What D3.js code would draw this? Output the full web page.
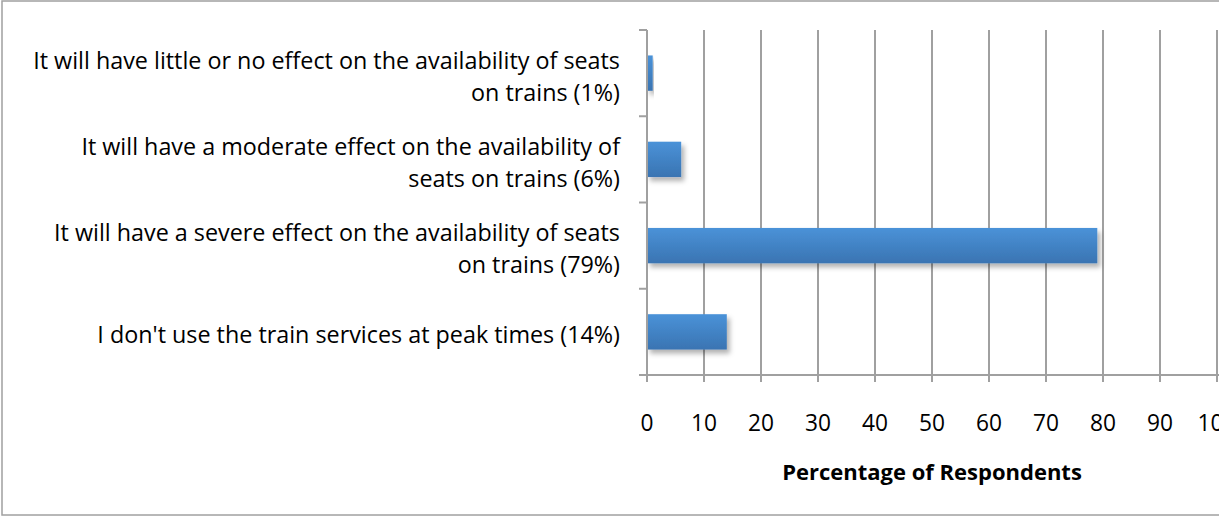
<!DOCTYPE html>
<html><head><meta charset="utf-8">
<script src="https://cdn.jsdelivr.net/npm/d3@7"></script>
<style>body{margin:0;background:#fff;}svg{display:block;}</style>
</head><body>
<svg id="c" width="1219" height="517"></svg>
<script>
const categories = [
  ["It will have little or no effect on the availability of seats", "on trains (1%)"],
  ["It will have a moderate effect on the availability of", "seats on trains (6%)"],
  ["It will have a severe effect on the availability of seats", "on trains (79%)"],
  ["I don't use the train services at peak times (14%)"]
];
const values = [1, 6, 79, 14];
const xTicks = [0,10,20,30,40,50,60,70,80,90,100];
const xTitle = "Percentage of Respondents";

const svg = d3.select("#c");
const font = "'Open Sans', Lato, sans-serif";

function fitSize(txt, weight, target){
  const t = svg.append("text").attr("font-family",font).attr("font-size",20).attr("font-weight",weight).text(txt);
  const w = t.node().getComputedTextLength();
  t.remove();
  return 20*target/w;
}
const labelSize = fitSize(categories[0][0], "normal", 587);
const tickSize = fitSize("90", "normal", 26);
const titleSize = fitSize(xTitle, "bold", 300);

const defs = svg.append("defs");
const g1 = defs.append("linearGradient").attr("id","bg").attr("x1",0).attr("y1",0).attr("x2",0).attr("y2",1);
g1.append("stop").attr("offset","0%").attr("stop-color","#4a92d8");
g1.append("stop").attr("offset","100%").attr("stop-color","#3a74b2");
const f = defs.append("filter").attr("id","sh").attr("x","-10%").attr("y","-20%").attr("width","130%").attr("height","160%");
f.append("feDropShadow").attr("dx",3).attr("dy",4).attr("stdDeviation",2.5).attr("flood-color","#000").attr("flood-opacity",0.3);

svg.append("rect").attr("x",2).attr("y",1).attr("width",1240).attr("height",514)
  .attr("fill","#fff").attr("stroke","#a0a0a0").attr("stroke-width",1.5);

const x = d3.scaleLinear().domain([0,100]).range([647,1217]);
const y = d3.scaleBand().domain(d3.range(categories.length)).range([30,375]).paddingInner(0.59).paddingOuter(0.295);

svg.append("g").selectAll("line").data(xTicks.slice(1)).join("line")
  .attr("x1",d=>x(d)).attr("x2",d=>x(d)).attr("y1",30).attr("y2",375)
  .attr("stroke","#a0a0a0").attr("stroke-width",2);

svg.append("g").selectAll("rect").data(values).join("rect")
  .attr("x",x(0)).attr("y",(d,i)=>y(i)).attr("width",d=>x(d)-x(0)).attr("height",y.bandwidth())
  .attr("fill","url(#bg)").attr("filter","url(#sh)");

const bandEdges = d3.range(categories.length+1).map(i=>30 + i*(345/categories.length));
svg.append("line").attr("x1",x(0)).attr("x2",x(0)).attr("y1",30).attr("y2",382).attr("stroke","#a0a0a0").attr("stroke-width",2);
svg.append("g").selectAll("line").data(bandEdges).join("line")
  .attr("x1",639).attr("x2",x(0)).attr("y1",d=>d).attr("y2",d=>d).attr("stroke","#a0a0a0").attr("stroke-width",2);
svg.append("line").attr("x1",639).attr("x2",1219).attr("y1",375).attr("y2",375).attr("stroke","#a0a0a0").attr("stroke-width",2);
svg.append("g").selectAll("line").data(xTicks).join("line")
  .attr("x1",d=>x(d)).attr("x2",d=>x(d)).attr("y1",375).attr("y2",382).attr("stroke","#a0a0a0").attr("stroke-width",2);

svg.append("g").selectAll("text").data(xTicks).join("text")
  .attr("x",d=>x(d)).attr("y",431).attr("text-anchor","middle")
  .attr("font-family",font).attr("font-size",tickSize).attr("fill","#000").text(d=>d);

categories.forEach((lines,i)=>{
  const cy = y(i)+y.bandwidth()/2;
  const lh = 32;
  const t = svg.append("text").attr("text-anchor","end").attr("font-family",font).attr("font-size",labelSize).attr("fill","#000");
  lines.forEach((ln,j)=>{
    t.append("tspan").attr("x",620).attr("y",cy + (j-(lines.length-1)/2)*lh + 11.5).text(ln);
  });
});

svg.append("text").attr("x",x(50)).attr("y",480).attr("text-anchor","middle")
  .attr("font-family",font).attr("font-size",titleSize).attr("font-weight","bold").attr("fill","#000").text(xTitle);
</script>
</body></html>
